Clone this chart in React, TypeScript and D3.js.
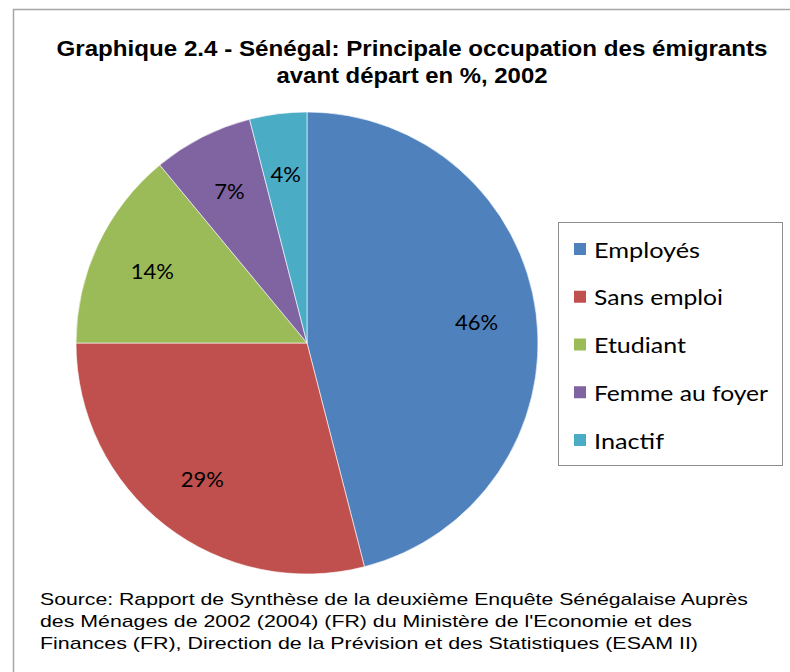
import React from "react";
import * as d3 from "d3";

const categories = ["Employés", "Sans emploi", "Etudiant", "Femme au foyer", "Inactif"];
const values = [46, 29, 14, 7, 4];
const colors = ["#4F81BD", "#C0504D", "#9BBB59", "#8064A2", "#4BACC6"];
const titleLines = [
  "Graphique 2.4 - Sénégal: Principale occupation des émigrants",
  "avant départ en %, 2002",
];
const sourceLines = [
  "Source: Rapport de Synthèse de la deuxième Enquête Sénégalaise Auprès",
  "des Ménages de 2002 (2004) (FR) du Ministère de l'Economie et des",
  "Finances (FR), Direction de la Prévision et des Statistiques (ESAM II)",
];

export default function App() {
  const W = 790, H = 672;
  const cx = 307, cy = 343, r = 231;
  const pie = d3.pie<number>().sort(null).value((d) => d);
  const arcs = pie(values);
  const arc = d3.arc<d3.PieArcDatum<number>>().innerRadius(0).outerRadius(r);
  const labelArc = d3.arc<d3.PieArcDatum<number>>().innerRadius(r * 0.74).outerRadius(r * 0.74);
  const legendY = d3.scaleLinear().domain([0, 4]).range([249, 440]);
  const titleWidths = [711, 271];
  const sourceWidths = [708, 652, 658];
  const legendWidths = [106, 129, 92, 174, 70];

  return (
    <svg width={W} height={H} style={{ position: "absolute", left: 0, top: 0, background: "#fff" }}>
      <rect x={13.5} y={9.5} width={W} height={H} fill="#fff" stroke="#a6a6a6" strokeWidth={1.5} />
      {titleLines.map((t, i) => (
        <text key={i} x={412} y={56 + i * 27} textAnchor="middle"
          fontFamily="'Liberation Sans Narrow', 'Liberation Sans', Arial, sans-serif"
          fontWeight="bold" fontSize={22} fill="#000"
          textLength={titleWidths[i]} lengthAdjust="spacingAndGlyphs">{t}</text>
      ))}
      <g transform={`translate(${cx},${cy})`}>
        {arcs.map((a, i) => (
          <path key={i} d={arc(a) || ""} fill={colors[i]} stroke="#fff" strokeWidth={0.6} />
        ))}
        {arcs.map((a, i) => {
          const [x, y] = labelArc.centroid(a);
          return (
            <text key={"l" + i} x={x} y={y} textAnchor="middle" dominantBaseline="central"
              fontFamily="Lato, 'Open Sans', sans-serif" fontSize={22} fill="#000">
              {values[i]}%
            </text>
          );
        })}
      </g>
      <rect x={558.5} y={222.5} width={224} height={243} fill="#fff" stroke="#8c8c8c" strokeWidth={1} />
      {categories.map((c, i) => (
        <g key={c}>
          <rect x={574} y={legendY(i) - 6} width={12} height={12} fill={colors[i]} />
          <text x={594} y={legendY(i)} dominantBaseline="central"
            fontFamily="Lato, 'Open Sans', sans-serif" fontSize={22} fill="#000"
            textLength={legendWidths[i]} lengthAdjust="spacingAndGlyphs">{c}</text>
        </g>
      ))}
      {sourceLines.map((t, i) => (
        <text key={i} x={40} y={605 + i * 22}
          fontFamily="'Liberation Sans Narrow', 'Liberation Sans', Arial, sans-serif"
          fontSize={17} fill="#000"
          textLength={sourceWidths[i]} lengthAdjust="spacingAndGlyphs">{t}</text>
      ))}
    </svg>
  );
}
